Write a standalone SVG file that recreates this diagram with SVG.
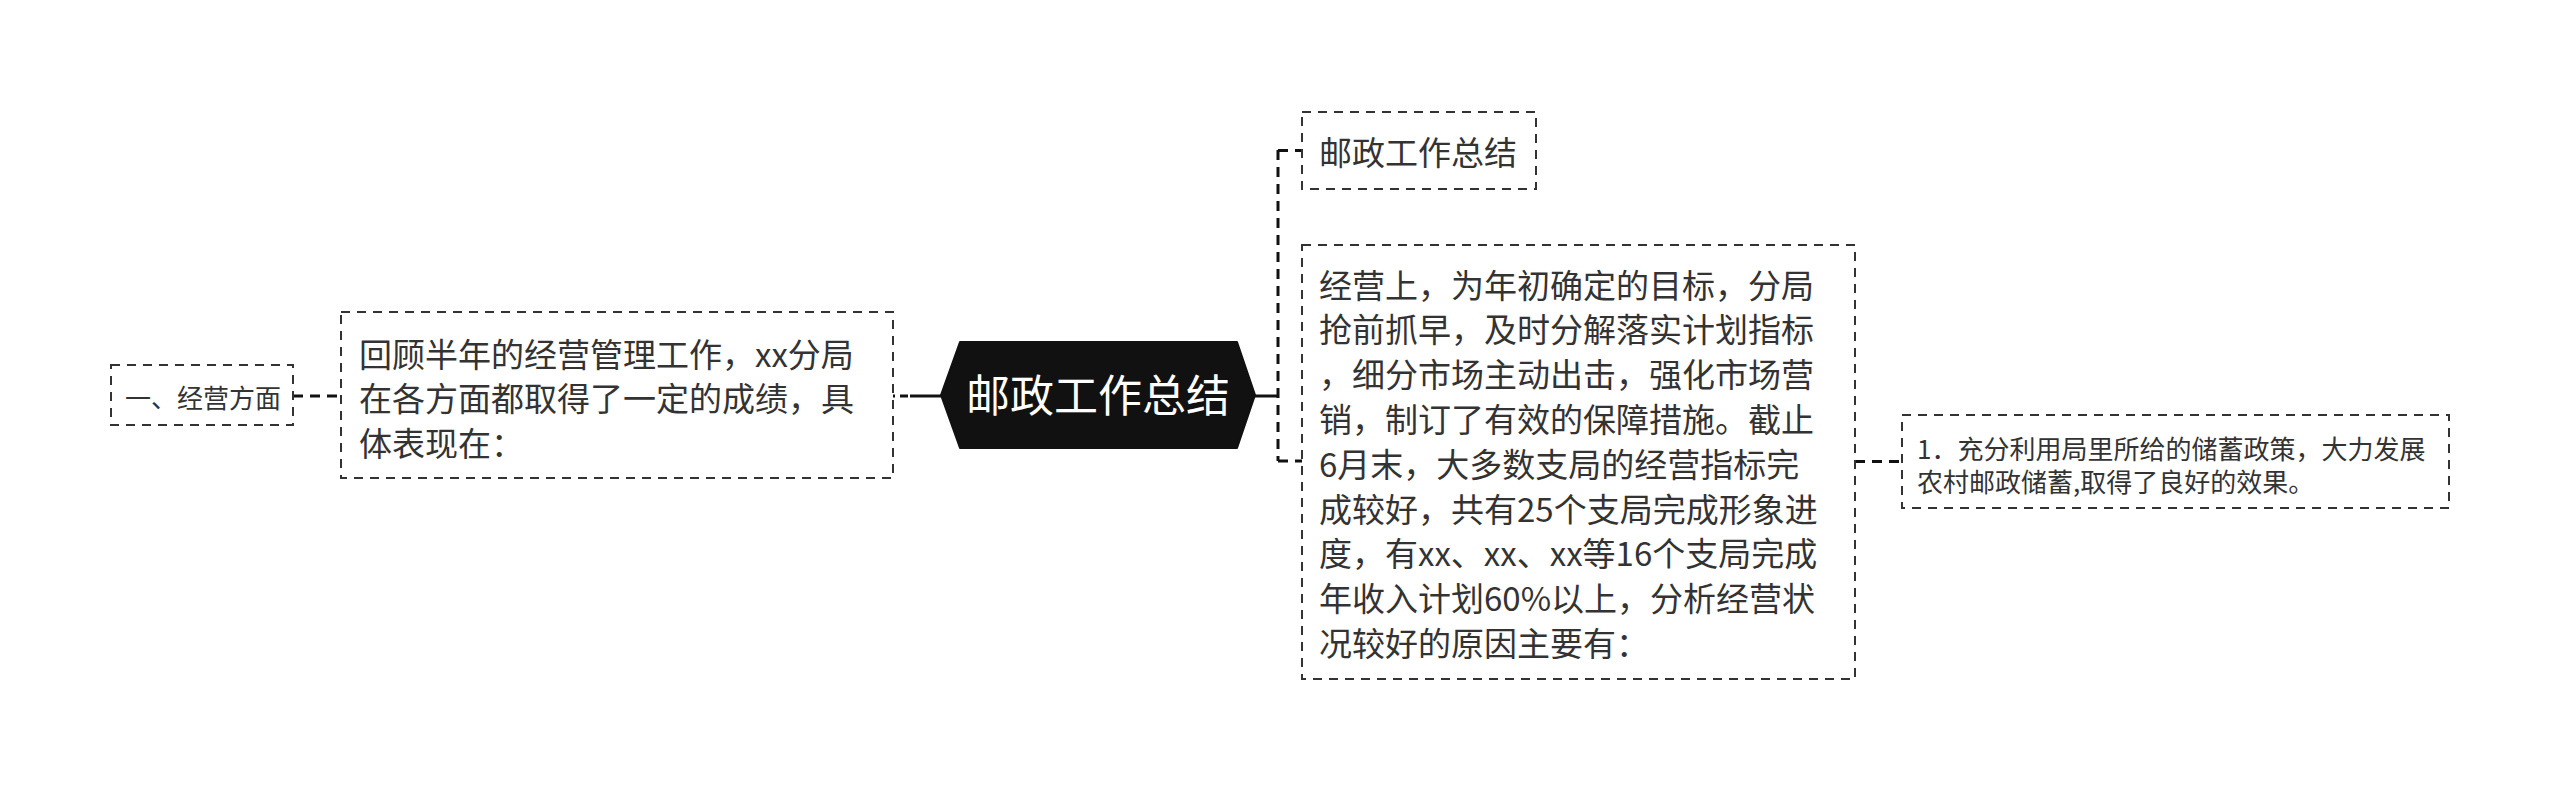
<svg xmlns="http://www.w3.org/2000/svg" width="2560" height="790" viewBox="0 0 2560 790">
<style>
.box{fill:#fff;stroke:#333;stroke-width:2;stroke-dasharray:9 7}
.t{font-family:"Noto Sans CJK SC","Microsoft YaHei",sans-serif;fill:#333;dominant-baseline:central}
.f33{font-size:33px}
.f26{font-size:26px}
.root{font-family:"Noto Sans CJK SC","Microsoft YaHei",sans-serif;font-size:44px;fill:#fff;dominant-baseline:central;text-anchor:middle}
.dash{fill:none;stroke:#111;stroke-width:3;stroke-dasharray:10 7}
.solid{fill:none;stroke:#111;stroke-width:3}
</style>
<rect width="2560" height="790" fill="#fff"/>
<g id="connectors">
<line class="solid" x1="1255" y1="396" x2="1278" y2="396"/>
<path class="dash" d="M1278 150 L1278 461"/>
<path class="dash" d="M1278 150.5 L1302 150.5"/>
<path class="dash" d="M1278 461 L1302 461"/>
<line class="solid" x1="910" y1="396" x2="942" y2="396"/>
<path class="dash" d="M893 396 L910 396" style="stroke-dasharray:2 5 8"/>
<path class="dash" d="M293 396 L341 396"/>
<path class="dash" d="M1855 461.5 L1902 461.5"/>
</g>
<g id="root">
<polygon points="941,395 960,342 1237,342 1255,395 1237,448 960,448" fill="#111" stroke="#111" stroke-width="2" stroke-linejoin="round"/>
<text class="root" x="1098" y="393">邮政工作总结</text>
</g>
<g id="node-top">
<rect class="box" x="1302" y="112" width="234" height="77"/>
<text class="t f33" x="1319" y="151">邮政工作总结</text>
</g>
<g id="node-big">
<rect class="box" x="1302" y="245" width="553" height="434"/>
<text class="t f33" x="1319">
<tspan x="1319" y="283.5">经营上，为年初确定的目标，分局</tspan>
<tspan x="1319" y="328.3">抢前抓早，及时分解落实计划指标</tspan>
<tspan x="1319" y="373.1">，细分市场主动出击，强化市场营</tspan>
<tspan x="1319" y="417.9">销，制订了有效的保障措施。截止</tspan>
<tspan x="1319" y="462.7">6月末，大多数支局的经营指标完</tspan>
<tspan x="1319" y="507.5">成较好，共有25个支局完成形象进</tspan>
<tspan x="1319" y="552.3">度，有xx、xx、xx等16个支局完成</tspan>
<tspan x="1319" y="597.1">年收入计划60%以上，分析经营状</tspan>
<tspan x="1319" y="641.9">况较好的原因主要有：</tspan>
</text>
</g>
<g id="node-right">
<rect class="box" x="1902" y="415" width="547" height="93"/>
<text class="t f26">
<tspan x="1917" y="447">1．充分利用局里所给的储蓄政策，大力发展</tspan>
<tspan x="1917" y="480">农村邮政储蓄,取得了良好的效果。</tspan>
</text>
</g>
<g id="node-left">
<rect class="box" x="341" y="312" width="552" height="166"/>
<text class="t f33">
<tspan x="359" y="352.5">回顾半年的经营管理工作，xx分局</tspan>
<tspan x="359" y="397">在各方面都取得了一定的成绩，具</tspan>
<tspan x="359" y="441.5">体表现在：</tspan>
</text>
</g>
<g id="node-far-left">
<rect class="box" x="111" y="365" width="182" height="60"/>
<text class="t f26" x="125" y="396">一、经营方面</text>
</g>
</svg>
